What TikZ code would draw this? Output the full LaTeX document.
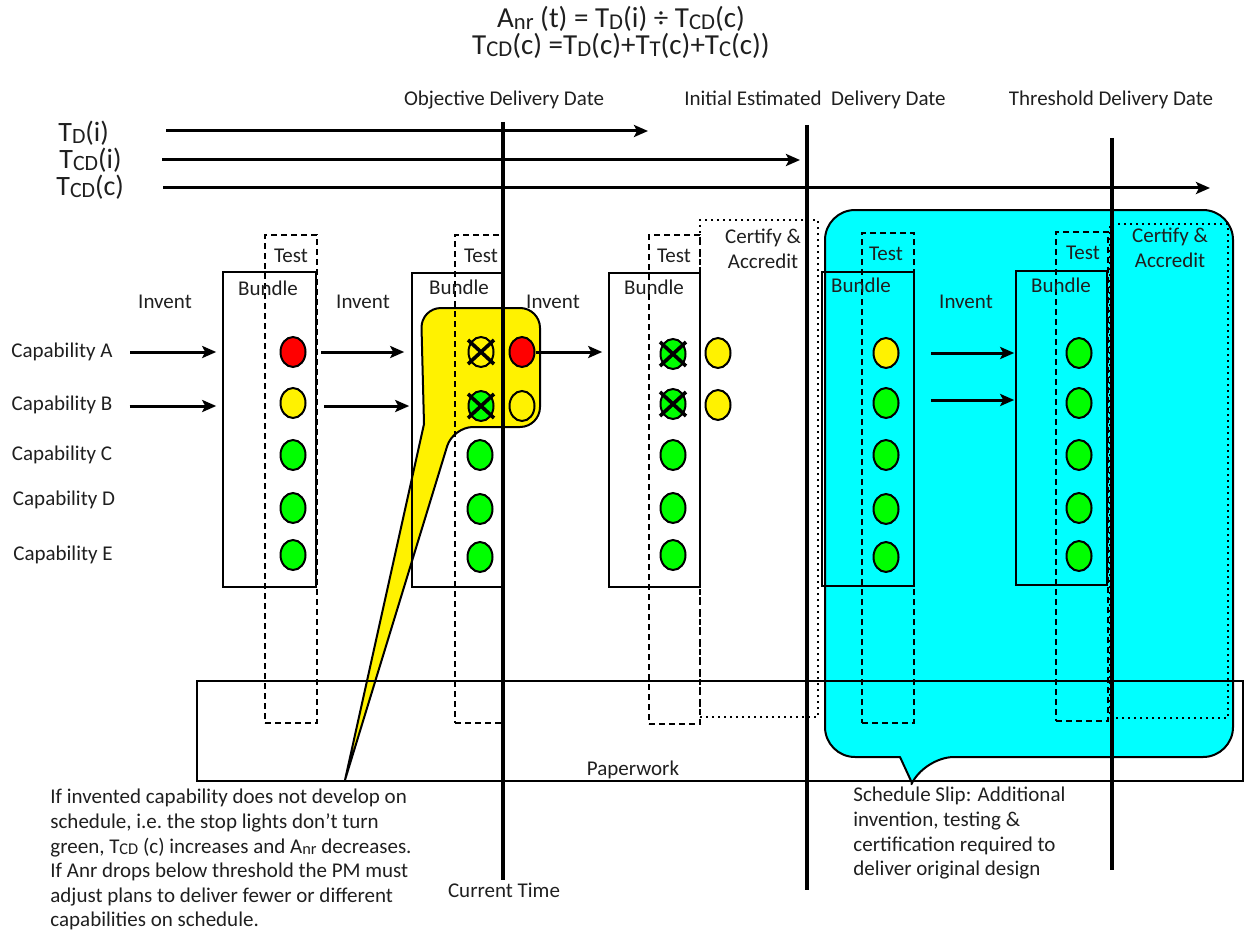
\documentclass[tikz,border=0pt]{standalone}
\usepackage{fontspec}
\setmainfont{Carlito}
\usetikzlibrary{arrows.meta,shapes.geometric,fit}
\newcommand\lsub[1]{\raisebox{-0.12ex}{\scalebox{0.78}{#1}}}
\begin{document}
\begin{tikzpicture}[x=0.5pt,y=-0.5pt,
 lbl/.style={font=\fontsize{10.5}{12.3}\selectfont, inner sep=0pt, text=black!88},
 big/.style={font=\fontsize{14}{16}\selectfont, inner sep=0pt, text=black!88},
 formula/.style={font=\fontsize{14.5}{17}\selectfont, inner sep=0pt, text=black!88},
 lamp/.style={ellipse, draw, line width=1pt, minimum width=12.5pt, minimum height=15pt, inner sep=0pt},
 redl/.style={lamp, fill=red},
 yell/.style={lamp, fill=yellow},
 grnl/.style={lamp, fill=green},
 bundlebox/.style={draw, line width=0.8pt, inner sep=0pt},
 testbox/.style={draw, line width=1pt, dash pattern=on 3pt off 2pt, inner sep=0pt},
 certbox/.style={draw, line width=0.9pt, dash pattern=on 0.9pt off 2.1pt, inner sep=0pt},
 paperbox/.style={draw, line width=0.8pt, inner sep=0pt},
 vline/.style={line width=1.6pt},
 arr/.style={line width=1.5pt, -{Stealth[length=7pt,width=6pt,inset=1.5pt]}},
 xmark/.style={line width=1.8pt},
 callout/.style={draw, line width=1pt, line join=round},
]
\useasboundingbox (0,0) rectangle (1245,936);

% ---------- callouts (background) ----------
\draw[callout, fill={rgb,255:red,0;green,255;blue,255}]
  (912,783) -- (900,757) [rounded corners=15pt] -- (825,757) -- (825,210) -- (1233,210) -- (1233,757) -- (924,757) [sharp corners] -- cycle;
\draw[callout, fill=yellow]
  (345,780) -- (424,424) [rounded corners=10pt] -- (421,308) -- (540,308) -- (540,427) -- (453,427) [sharp corners] -- cycle;

% ---------- formula ----------
\node[formula, anchor=base] (f1) at (621,28) {A\lsub{nr} (t) = T\lsub{D}(i) ÷ T\lsub{CD}(c)};
\node[formula, anchor=base] (f2) at (621,55) {T\lsub{CD}(c) =T\lsub{D}(c)+T\lsub{T}(c)+T\lsub{C}(c))};

% ---------- date labels ----------
\node[lbl, anchor=base] (odd) at (504,106) {Objective Delivery Date};
\node[lbl, anchor=base] (ied) at (815,106) {Initial Estimated\ \ Delivery Date};
\node[lbl, anchor=base] (tdd) at (1111,106) {Threshold Delivery Date};

% ---------- time labels and arrows ----------
\node[big, anchor=base west] (ltdi) at (58,142) {T\lsub{D}(i)};
\node[big, anchor=base west] (ltcdi) at (59,169) {T\lsub{CD}(i)};
\node[big, anchor=base west] (ltcdc) at (56,196) {T\lsub{CD}(c)};
\coordinate (a1s) at (166,131); \coordinate (a1e) at (648,131);
\coordinate (a2s) at (162,160); \coordinate (a2e) at (800,160);
\coordinate (a3s) at (163,188); \coordinate (a3e) at (1210,188);
\draw[arr] (a1s) -- (a1e);
\draw[arr] (a2s) -- (a2e);
\draw[arr] (a3s) -- (a3e);

% ---------- paperwork ----------
\node[paperbox, fit={(197,681) (1243,781)}] (paper) {};
\node[lbl, anchor=base] (paperlab) at (633,775) {Paperwork};

% ---------- boxes ----------
\node[bundlebox, fit={(223,272) (316,587)}] (bd1) {};
\node[testbox, fit={(265,235) (317,723)}] (ts1) {};
\node[bundlebox, fit={(412,273) (503,587)}] (bd2) {};
\node[testbox, fit={(455,235) (503,723)}] (ts2) {};
\node[bundlebox, fit={(609,273) (700,587)}] (bd3) {};
\node[testbox, fit={(649,235) (700,724)}] (ts3) {};
\node[certbox, fit={(700,220) (818,717)}] (ca1) {};
\node[bundlebox, fit={(822,272) (914,586)}] (bd4) {};
\node[testbox, fit={(862,233) (914,723)}] (ts4) {};
\node[bundlebox, fit={(1016,271) (1107,585)}] (bd5) {};
\node[testbox, fit={(1056,232) (1108,721)}] (ts5) {};
\node[certbox, fit={(1110,224) (1228,718)}] (ca2) {};

% ---------- vertical time lines ----------
\coordinate (ct1) at (503,122); \coordinate (ct2) at (503,880);
\coordinate (ie1) at (807,125); \coordinate (ie2) at (807,890);
\coordinate (th1) at (1112,138); \coordinate (th2) at (1112,870);
\draw[vline] (ct1) -- (ct2);
\draw[vline] (ie1) -- (ie2);
\draw[vline] (th1) -- (th2);
\node[lbl, anchor=base] (ctlab) at (504,897) {Current Time};

% ---------- box labels ----------
\node[lbl] (tl1) at (291,256) {Test};
\node[lbl] (tl2) at (481,256) {Test};
\node[lbl] (tl3) at (674,256) {Test};
\node[lbl] (tl4) at (886,254) {Test};
\node[lbl] (tl5) at (1083,253) {Test};
\node[lbl] (bl1) at (268,288) {Bundle};
\node[lbl] (bl2) at (459,287) {Bundle};
\node[lbl] (bl3) at (654,287) {Bundle};
\node[lbl] (bl4) at (861,285) {Bundle};
\node[lbl] (bl5) at (1061,285) {Bundle};
\node[lbl] (il1) at (165,302) {Invent};
\node[lbl] (il2) at (363,302) {Invent};
\node[lbl] (il3) at (553,302) {Invent};
\node[lbl] (il4) at (966,302) {Invent};
\node[lbl, align=center] (cl1) at (763,249) {Certify \&\\Accredit};
\node[lbl, align=center] (cl2) at (1170,248) {Certify \&\\Accredit};

% ---------- capability labels ----------
\node[lbl] (capA) at (62,352) {Capability A};
\node[lbl] (capB) at (62,405) {Capability B};
\node[lbl] (capC) at (62,455) {Capability C};
\node[lbl] (capD) at (64,500) {Capability D};
\node[lbl] (capE) at (63,555) {Capability E};

% ---------- lamps ----------
\node[redl] (c1a) at (293,352) {};
\node[yell] (c1b) at (293,403) {};
\node[grnl] (c1c) at (293,455) {};
\node[grnl] (c1d) at (293,508) {};
\node[grnl] (c1e) at (293,555) {};

\node[lamp] (c2a) at (481,352) {};
\node[grnl] (c2b) at (481,406) {};
\node[grnl] (c2c) at (480,455) {};
\node[grnl] (c2d) at (480,509) {};
\node[grnl] (c2e) at (480,557) {};
\node[redl] (c2r) at (522,352) {};
\node[lamp] (c2y) at (522,406) {};

\node[grnl] (c3a) at (673,354) {};
\node[grnl] (c3b) at (673,404) {};
\node[grnl] (c3c) at (673,455) {};
\node[grnl] (c3d) at (673,508) {};
\node[grnl] (c3e) at (673,555) {};
\node[yell] (c3p) at (718,353) {};
\node[yell] (c3q) at (718,405) {};

\node[yell] (c4a) at (886,353) {};
\node[grnl] (c4b) at (886,403) {};
\node[grnl] (c4c) at (886,455) {};
\node[grnl] (c4d) at (886,509) {};
\node[grnl] (c4e) at (886,557) {};

\node[grnl] (c5a) at (1079,353) {};
\node[grnl] (c5b) at (1079,403) {};
\node[grnl] (c5c) at (1079,455) {};
\node[grnl] (c5d) at (1079,508) {};
\node[grnl] (c5e) at (1079,556) {};

% ---------- X marks ----------
\foreach \n in {c2a,c2b,c3a,c3b}{
  \draw[xmark] ([shift={(-13,-12)}]\n.center) -- ([shift={(13,12)}]\n.center);
  \draw[xmark] ([shift={(-13,12)}]\n.center) -- ([shift={(13,-12)}]\n.center);
}

% ---------- arrows ----------
\draw[arr] ([xshift=8.5pt]capA.east) -- ([xshift=-3pt]bd1.west |- capA.east);
\draw[arr] ([xshift=8.5pt]capB.east |- 0,406) -- ([xshift=-3pt]bd1.west |- 0,406);
\draw[arr] ([xshift=7.25pt]c1a.east) -- ([xshift=-3.5pt]bd2.west |- c1a.east);
\draw[arr] ([xshift=8.75pt]c1b.east |- 0,406) -- ([xshift=-1pt]bd2.west |- 0,406);
\draw[arr] (c2r.east) -- ([xshift=-3pt]bd3.west |- c2r.east);
\draw[arr] ([xshift=15.75pt]c4a.east) -- ([xshift=-0.5pt]bd5.west |- c4a.east);
\draw[arr] ([xshift=15.75pt]c4b.east |- 0,400) -- ([xshift=-0.5pt]bd5.west |- 0,400);

% ---------- notes ----------
\node[lbl, anchor=north west, align=left] (note1) at (50,789) {If invented capability does not develop on\\
schedule, i.e.\ the stop lights don’t turn\\
green, T\lsub{CD} (c) increases and A\lsub{nr} decreases.\\
If Anr drops below threshold the PM must\\
adjust plans to deliver fewer or different\\
capabilities on schedule.};
\node[lbl, anchor=north west, align=left] (note2) at (853,787) {Schedule Slip: Additional\\
invention, testing \&\\
certification required to\\
deliver original design};
\end{tikzpicture}
\end{document}
